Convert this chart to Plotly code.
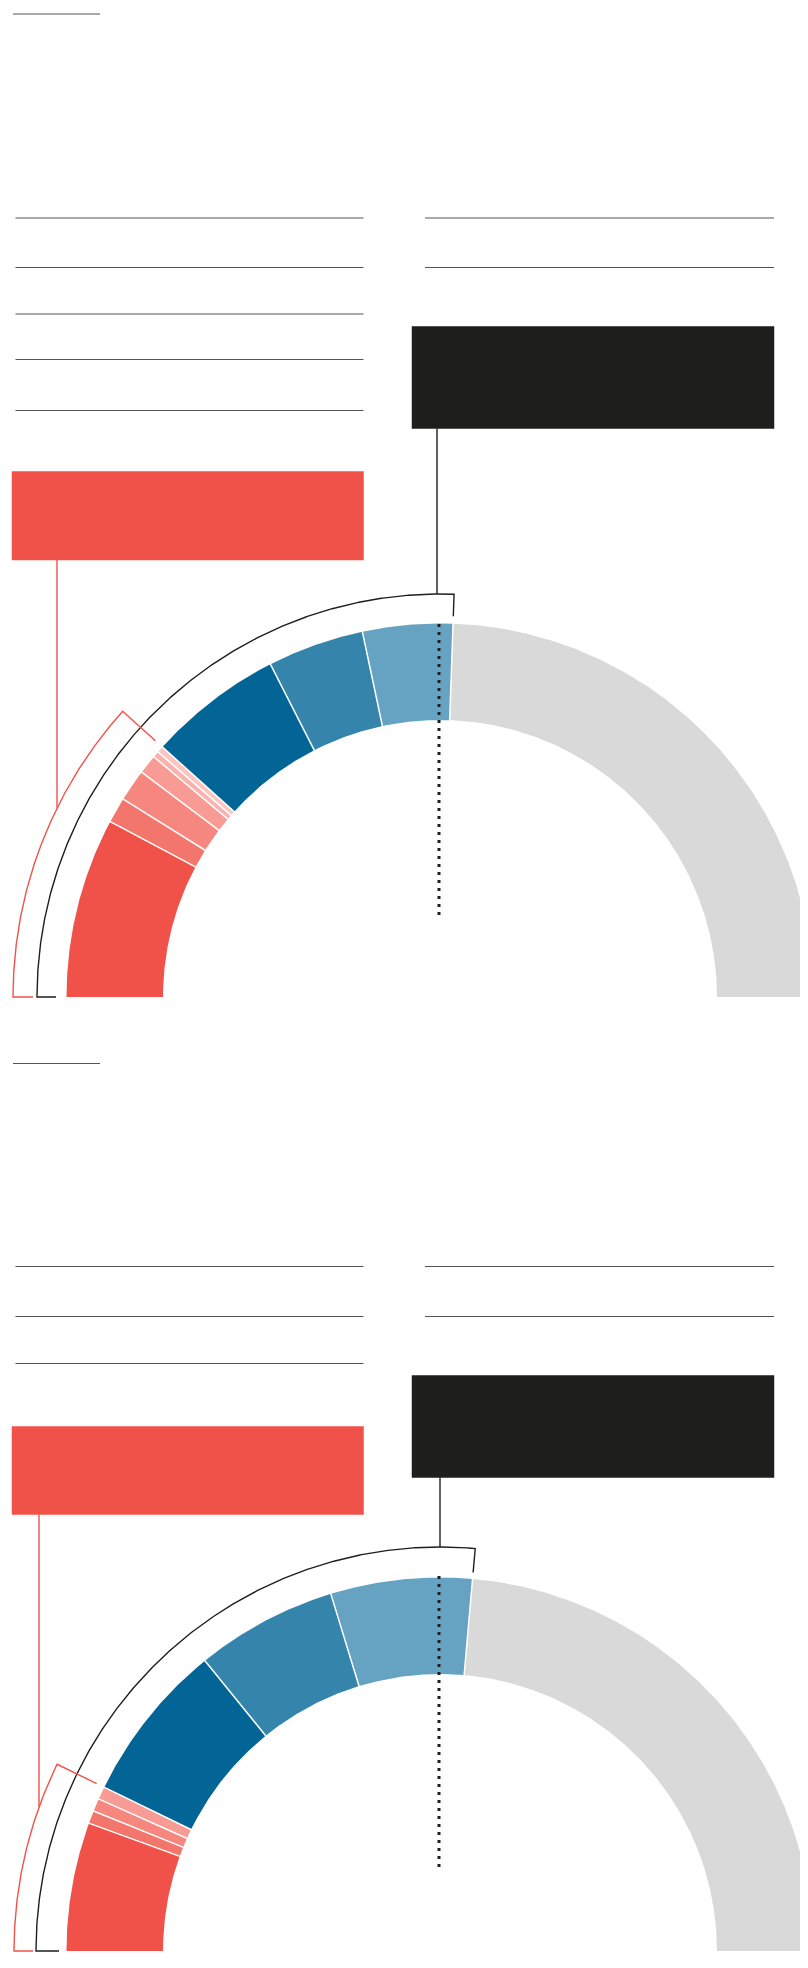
import numpy as np
import plotly.graph_objects as go

W, H = 808, 1968

# ---------------- data ----------------
# Chart 1 (upper hemicycle): segment sizes, in units of a 180-unit half circle
c1_parties = ["R1", "R2", "R3", "R4", "R5", "R6", "B1", "B2", "B3", "Other"]
c1_values = [28, 4, 5, 3, 1, 1, 21, 15, 14, 88]
c1_red_bloc = 6      # first n segments grouped by red bracket
c1_black_bloc = 9    # first n segments grouped by black bracket

# Chart 2 (lower hemicycle)
c2_parties = ["R1", "R2", "R3", "R4", "B1", "B2", "B3", "Other"]
c2_values = [20, 2, 2, 2, 25, 22, 22, 85]
c2_red_bloc = 4
c2_black_bloc = 7

# ---------------- styles ----------------
RED = "#f0524a"
BLACK = "#1e1e1c"
c1_colors = [RED, "#f3766c", "#f5877f", "#f79b94", "#f9b2ad", "#fbc6c2",
             "#036496", "#3584ab", "#66a2c1", "#d9d9d9"]
c2_colors = [RED, "#f3766c", "#f5877f", "#f79b94",
             "#036496", "#3584ab", "#66a2c1", "#d9d9d9"]

R_OUT, R_IN = 373.5, 277.0

fig = go.Figure()


def pt(cx, cy, r, th_deg):
    t = np.radians(th_deg)
    return cx - r * np.cos(t), cy - r * np.sin(t)


def draw_hemicycle(values, colors, cx, cy):
    total = float(sum(values))
    cum = np.concatenate([[0], np.cumsum(values)]) / total * 180.0
    for i, col in enumerate(colors):
        a0, a1 = cum[i], cum[i + 1]
        n = max(4, int((a1 - a0) * 4) + 2)
        th = np.linspace(a0, a1, n)
        xo, yo = pt(cx, cy, R_OUT, th)
        xi, yi = pt(cx, cy, R_IN, th[::-1])
        xs = np.concatenate([xo, xi, xo[:1]])
        ys = np.concatenate([yo, yi, yo[:1]])
        fig.add_trace(go.Scatter(x=xs, y=ys, mode="lines", fill="toself",
                                 fillcolor=col, line=dict(width=0, color=col),
                                 hoverinfo="skip", showlegend=False))
    for a in cum[1:-1]:
        x0, y0 = pt(cx, cy, R_IN - 1, a)
        x1, y1 = pt(cx, cy, R_OUT + 1, a)
        fig.add_trace(go.Scatter(x=[x0, x1], y=[y0, y1], mode="lines",
                                 line=dict(color="white", width=1.5),
                                 hoverinfo="skip", showlegend=False))
    return cum


def bracket(cx, cy, r, th_end, r_base_tick, r_end_tick, color):
    th = np.linspace(0, th_end, 400)
    xa, ya = pt(cx, cy, r, th)
    xb0, yb0 = pt(cx, cy, r_base_tick, 0)
    xe, ye = pt(cx, cy, r_end_tick, th_end)
    xs = np.concatenate([[xb0], xa, [xe]])
    ys = np.concatenate([[yb0], ya, [ye]])
    fig.add_trace(go.Scatter(x=xs, y=ys, mode="lines",
                             line=dict(color=color, width=1.4),
                             hoverinfo="skip", showlegend=False))


def vline_to_arc(x, y_top, cx, cy, r, color):
    y_bot = cy - np.sqrt(r ** 2 - (cx - x) ** 2)
    fig.add_trace(go.Scatter(x=[x, x], y=[y_top, y_bot], mode="lines",
                             line=dict(color=color, width=1.4),
                             hoverinfo="skip", showlegend=False))


shapes = []


def hline(x0, x1, y, color="#555555", width=1):
    shapes.append(dict(type="line", x0=x0, x1=x1, y0=y, y1=y, xref="x", yref="y",
                       line=dict(color=color, width=width)))


def box(x0, x1, y0, y1, color):
    shapes.append(dict(type="rect", x0=x0, x1=x1, y0=y0, y1=y1, xref="x", yref="y",
                       fillcolor=color, line=dict(color=color, width=0.5), layer="below"))


# ---------------- chart 1 ----------------
cx1, cy1 = 432, 989
hline(5, 92, 6)
for y in [210, 259.5, 306, 351.5, 402.5]:
    hline(7.5, 355.5, y)
for y in [210, 259.5]:
    hline(417, 766, y)
box(404, 766, 318.5, 420.5, BLACK)
box(4, 355.5, 463.5, 552, RED)

cum1 = draw_hemicycle(c1_values, c1_colors, cx1, cy1)
bracket(cx1, cy1, 403, cum1[c1_black_bloc], 384, 381, BLACK)
bracket(cx1, cy1, 427, cum1[c1_red_bloc], 407, 383, RED)
vline_to_arc(429, 420.5, cx1, cy1, 403, BLACK)
vline_to_arc(49, 552, cx1, cy1, 427, RED)
shapes.append(dict(type="line", x0=431, x1=431, y0=616, y1=907, xref="x", yref="y",
                   line=dict(color=BLACK, width=3, dash="3px,5px")))

# ---------------- chart 2 ----------------
cx2, cy2 = 432, 1943
hline(5, 92, 1055.5)
for y in [1258.5, 1308.5, 1355.5]:
    hline(7.5, 355.5, y)
for y in [1258.5, 1308.5]:
    hline(417, 766, y)
box(404, 766, 1367.5, 1469.5, BLACK)
box(4, 355.5, 1418.5, 1506.5, RED)

cum2 = draw_hemicycle(c2_values, c2_colors, cx2, cy2)
bracket(cx2, cy2, 404, cum2[c2_black_bloc], 381, 380, BLACK)
bracket(cx2, cy2, 426, cum2[c2_red_bloc], 407, 382, RED)
vline_to_arc(432, 1469.5, cx2, cy2, 404, BLACK)
vline_to_arc(31, 1506.5, cx2, cy2, 426, RED)
shapes.append(dict(type="line", x0=431, x1=431, y0=1568, y1=1859, xref="x", yref="y",
                   line=dict(color=BLACK, width=3, dash="3px,5px")))

fig.update_layout(
    width=W, height=H,
    margin=dict(l=0, r=0, t=0, b=0),
    paper_bgcolor="white", plot_bgcolor="white",
    xaxis=dict(range=[0, W], visible=False, fixedrange=True),
    yaxis=dict(range=[H, 0], visible=False, fixedrange=True),
    shapes=shapes,
    showlegend=False,
)

fig.write_html("out.html", config={"displayModeBar": False})
